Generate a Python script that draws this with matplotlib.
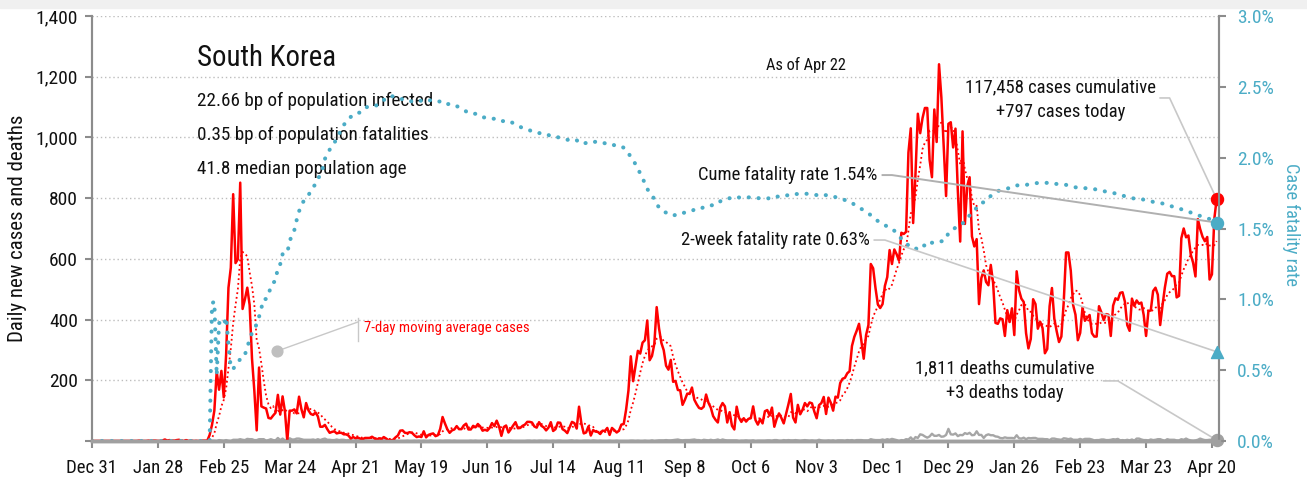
import matplotlib
matplotlib.use('Agg')
import matplotlib.pyplot as plt
import matplotlib.dates as mdates
from matplotlib import font_manager
from matplotlib.patches import Rectangle
import numpy as np
import pandas as pd

# daily new confirmed cases, South Korea, one list per month
cases_2019_12 = [0]
cases_2020_01 = [0, 0, 0, 0, 0, 0, 0, 0, 0, 0, 0, 0, 0, 0, 0, 0, 0, 0, 0, 1,
                 0, 0, 0, 1, 0, 1, 1, 0, 0, 2, 5]
cases_2020_02 = [1, 3, 0, 1, 3, 4, 0, 0, 3, 0, 1, 0, 0, 0, 0, 1, 1, 1, 20, 53,
                 100, 229, 169, 231, 144, 284, 505, 571, 813]
cases_2020_03 = [586, 599, 851, 435, 467, 505, 448, 272, 165, 35, 242, 114, 110, 107, 76, 74,
                 84, 93, 152, 87, 147, 98, 0, 100, 100, 104, 91, 146, 105, 78, 125]
cases_2020_04 = [101, 89, 86, 94, 81, 47, 47, 53, 39, 27, 30, 32, 25, 27, 27, 22, 22, 18, 8, 13,
                 9, 11, 8, 6, 10, 10, 10, 14, 9, 4]
cases_2020_05 = [9, 6, 13, 8, 3, 2, 4, 12, 18, 34, 35, 27, 26, 29, 27, 19, 13, 15, 13, 32,
                 12, 20, 23, 25, 16, 19, 40, 79, 58, 39, 27]
cases_2020_06 = [35, 38, 49, 39, 39, 51, 57, 38, 38, 50, 45, 56, 48, 34, 37, 34, 43, 59, 49, 67,
                 48, 17, 46, 51, 28, 39, 51, 62, 42, 43]
cases_2020_07 = [50, 54, 63, 63, 61, 48, 44, 62, 50, 45, 35, 44, 62, 33, 39, 61, 60, 39, 34, 26,
                 45, 63, 59, 41, 113, 58, 25, 28, 48, 18, 36]
cases_2020_08 = [31, 30, 23, 34, 33, 43, 20, 43, 36, 28, 34, 54, 56, 103, 166, 279, 197, 246, 297, 288,
                 324, 332, 397, 266, 280, 320, 441, 371, 323, 299, 248]
cases_2020_09 = [235, 267, 195, 198, 168, 167, 119, 136, 156, 155, 176, 136, 121, 109, 106, 113, 153, 126, 110, 82,
                 70, 61, 110, 125, 114, 61, 95, 50, 38, 113]
cases_2020_10 = [77, 63, 75, 64, 73, 75, 114, 69, 54, 72, 58, 98, 102, 84, 110, 47, 73, 91, 76, 58,
                 89, 121, 155, 77, 61, 119, 88, 103, 125, 114, 127]
cases_2020_11 = [124, 97, 75, 118, 125, 145, 89, 143, 126, 100, 146, 143, 191, 205, 208, 223, 230, 313, 343, 363,
                 386, 330, 271, 349, 382, 583, 569, 504, 450, 438]
cases_2020_12 = [451, 511, 540, 629, 583, 631, 615, 594, 686, 682, 689, 950, 1030, 718, 880, 1078,
                 1014, 1064, 1097, 1097, 926, 869, 1092, 985, 1241, 1132, 970, 807, 1045, 1050, 967]
cases_2021_01 = [1029, 824, 657, 1020, 715, 840, 869, 674, 641, 665, 451, 537, 562, 524, 513, 580,
                 520, 389, 386, 404, 401, 346, 431, 392, 437, 349, 559, 497, 469, 458, 355]
cases_2021_02 = [305, 336, 467, 451, 370, 393, 372, 289, 303, 444, 504, 403, 362, 326, 344, 457, 621, 621, 561, 448,
                 416, 332, 356, 440, 396, 406, 415, 355]
cases_2021_03 = [344, 344, 444, 424, 398, 418, 416, 346, 446, 470, 465, 488, 490, 459, 382, 363,
                 469, 445, 463, 452, 456, 415, 346, 428, 430, 494, 505, 482, 382, 447, 506]
cases_2021_04 = [551, 557, 543, 543, 473, 478, 668, 700, 671, 677, 614, 587, 542, 731, 698, 673,
                 658, 672, 532, 549, 731, 797]

# daily deaths, same months
deaths_2019_12 = [0]
deaths_2020_01 = [0, 0, 0, 0, 0, 0, 0, 0, 0, 0, 0, 0, 0, 0, 0, 0, 0, 0, 0, 0,
                  0, 0, 0, 0, 0, 0, 0, 0, 0, 0, 0]
deaths_2020_02 = [0, 0, 0, 0, 0, 0, 0, 0, 0, 0, 0, 0, 0, 0, 0, 0, 0, 0, 0, 1,
                  1, 0, 3, 2, 1, 3, 1, 0, 4]
deaths_2020_03 = [4, 4, 6, 4, 3, 7, 6, 6, 3, 3, 6, 6, 6, 1, 3, 6, 3, 2, 10, 3,
                  8, 2, 0, 9, 5, 5, 8, 8, 6, 4, 4]
deaths_2020_04 = [4, 4, 5, 3, 6, 3, 6, 8, 4, 4, 3, 3, 5, 3, 4, 4, 2, 3, 2, 1,
                  1, 2, 0, 2, 2, 1, 0, 1, 1, 0]
deaths_2020_05 = [1, 2, 2, 0, 2, 1, 0, 0, 0, 0, 0, 0, 1, 0, 0, 1, 0, 1, 0, 1,
                  0, 0, 2, 0, 0, 0, 1, 0, 1, 1, 1]
deaths_2020_06 = [0, 1, 0, 0, 0, 0, 0, 0, 1, 0, 1, 0, 0, 0, 1, 0, 1, 1, 1, 0,
                  1, 0, 1, 0, 1, 1, 0, 0, 0, 0]
deaths_2020_07 = [0, 0, 1, 1, 0, 1, 0, 1, 1, 0, 1, 0, 0, 1, 0, 1, 1, 0, 0, 0,
                  1, 2, 0, 1, 0, 0, 1, 1, 1, 0, 2]
deaths_2020_08 = [1, 0, 1, 0, 0, 0, 1, 0, 0, 1, 0, 0, 0, 0, 0, 1, 1, 0, 1, 0,
                  0, 1, 0, 0, 2, 0, 1, 2, 2, 2, 3]
deaths_2020_09 = [2, 2, 3, 4, 5, 3, 2, 3, 3, 3, 4, 5, 3, 3, 1, 4, 3, 2, 4, 2,
                  3, 5, 2, 5, 3, 2, 2, 2, 2, 2]
deaths_2020_10 = [0, 1, 1, 2, 1, 1, 2, 0, 1, 1, 1, 1, 2, 2, 1, 3, 3, 1, 1, 3,
                  2, 3, 2, 2, 3, 2, 1, 2, 3, 2, 1]
deaths_2020_11 = [2, 1, 1, 4, 2, 1, 1, 2, 1, 2, 0, 2, 2, 2, 1, 3, 2, 3, 1, 3,
                  3, 3, 2, 2, 2, 6, 4, 3, 3, 3]
deaths_2020_12 = [5, 3, 6, 4, 7, 5, 3, 0, 3, 2, 6, 5, 12, 3, 13, 10, 22, 20, 15, 11,
                  15, 24, 17, 17, 20, 14, 15, 20, 40, 22, 21]
deaths_2021_01 = [25, 16, 20, 19, 26, 23, 27, 19, 20, 32, 20, 20, 10, 19, 22, 19, 19, 15, 14, 10,
                  9, 12, 10, 10, 10, 9, 19, 9, 8, 11, 6]
deaths_2021_02 = [10, 9, 10, 10, 7, 7, 7, 6, 6, 3, 8, 8, 6, 5, 4, 9, 8, 6, 8, 4,
                  4, 4, 7, 4, 7, 7, 7, 5]
deaths_2021_03 = [2, 3, 3, 5, 5, 3, 3, 4, 6, 5, 7, 2, 3, 2, 4, 2, 5, 1, 8, 8,
                  5, 3, 3, 2, 5, 3, 4, 6, 6, 3, 1]
deaths_2021_04 = [6, 4, 4, 4, 2, 2, 6, 4, 8, 4, 2, 1, 2, 4, 8, 5, 3, 3, 4, 4,
                  1, 3]

# headline figures
country = 'South Korea'
as_of = 'Apr 22'
cume_cases = 117458
cume_deaths = 1811
two_week_cfr = 0.63
stats_lines = ['22.66 bp of population infected',
               '0.35 bp of population fatalities',
               '41.8 median population age']

cases = np.array(cases_2019_12 + cases_2020_01 + cases_2020_02 + cases_2020_03 + cases_2020_04
                 + cases_2020_05 + cases_2020_06 + cases_2020_07 + cases_2020_08 + cases_2020_09
                 + cases_2020_10 + cases_2020_11 + cases_2020_12 + cases_2021_01 + cases_2021_02
                 + cases_2021_03 + cases_2021_04, dtype=float)
deaths = np.array(deaths_2019_12 + deaths_2020_01 + deaths_2020_02 + deaths_2020_03 + deaths_2020_04
                  + deaths_2020_05 + deaths_2020_06 + deaths_2020_07 + deaths_2020_08 + deaths_2020_09
                  + deaths_2020_10 + deaths_2020_11 + deaths_2020_12 + deaths_2021_01 + deaths_2021_02
                  + deaths_2021_03 + deaths_2021_04, dtype=float)

start = pd.Timestamp('2019-12-31')
dates = pd.date_range(start, periods=len(cases), freq='D')
x = mdates.date2num(dates.to_pydatetime())

ma7 = pd.Series(cases).rolling(7, min_periods=1).mean().values
cum_c = np.cumsum(cases)
cum_d = np.cumsum(deaths)
cfr = np.divide(cum_d, cum_c, out=np.zeros_like(cum_c), where=cum_c > 0) * 100
cume_cfr = 100.0 * cume_deaths / cume_cases


def day(n):
    return mdates.date2num((start + pd.Timedelta(days=n)).to_pydatetime())


def pick_font():
    """Prefer a narrow sans if one is installed."""
    entries = font_manager.fontManager.ttflist
    names = {f.name for f in entries}
    for n in ('Liberation Sans Narrow', 'Roboto Condensed', 'Noto Sans Condensed',
              'Open Sans Condensed', 'DejaVu Sans Condensed'):
        if n in names:
            return n, 'normal'
    for f in entries:
        if f.name == 'DejaVu Sans' and str(f.stretch) == 'condensed':
            return 'DejaVu Sans', 'condensed'
    return 'Roboto', 'normal'


family, stretch = pick_font()
plt.rcParams['font.family'] = [family, 'DejaVu Sans']
plt.rcParams['font.stretch'] = stretch

RED = '#ff0000'
TEAL = '#4bacc6'
GREY = '#a6a6a6'
AXIS = '#8c8c8c'
CONN = '#c8c8c8'
INK = '#111111'

W, H = 1307, 482
fig = plt.figure(figsize=(W / 100, H / 100), dpi=100)
fig.patches.append(Rectangle((0, 1 - 8 / H), 1, 8 / H, transform=fig.transFigure,
                             color='#f0f0f0', zorder=0))
ax = fig.add_axes([92 / W, 41 / H, (1219 - 92) / W, (441 - 16) / H])
ax2 = ax.twinx()

# cases and deaths on the left scale
ax.plot(x, deaths, color=GREY, lw=1.7, zorder=2)
ax.plot(x, cases, color=RED, lw=1.8, zorder=3)
ax.plot(x, ma7, color=RED, lw=1.3, linestyle=(0, (1, 1.6)), zorder=3)

# fatality rate on the right scale
ax2.plot(x, cfr, color=TEAL, lw=2.9, linestyle=(0, (0.05, 2.4)),
         dash_capstyle='round', zorder=2)

ax.set_xlim(day(0), day(len(cases)))
ax.set_ylim(0, 1400)
ax2.set_ylim(0, 3.0)

ax.set_yticks(np.arange(0, 1401, 200))
ax.yaxis.set_major_formatter(matplotlib.ticker.FuncFormatter(lambda v, p: f'{int(v):,}' if v > 0 else ''))
ax2.set_yticks(np.arange(0, 3.01, 0.5))
ax2.yaxis.set_major_formatter(matplotlib.ticker.FuncFormatter(lambda v, p: f'{v:.1f}%'))

ticks = pd.date_range(start, periods=18, freq='28D')
ax.set_xticks(mdates.date2num(ticks.to_pydatetime()))
ax.xaxis.set_major_formatter(mdates.DateFormatter('%b %-d'))

ax.yaxis.grid(True, color='#bdbdbd', linestyle=(0, (1, 2)), lw=1)
ax.set_axisbelow(True)

for a in (ax, ax2):
    a.spines['top'].set_visible(False)
    a.spines['left'].set_color(AXIS)
    a.spines['right'].set_color(AXIS)
    a.spines['left'].set_linewidth(1.5)
    a.spines['right'].set_linewidth(1.5)
    a.spines['bottom'].set_color('#a0a0a0')
    a.spines['bottom'].set_linewidth(2.5)

ax.tick_params(axis='y', colors=AXIS, labelcolor=INK, labelsize=14, length=5, width=1.5, pad=5)
ax.tick_params(axis='x', colors=AXIS, labelcolor=INK, labelsize=13.6, length=5, width=1.5, pad=8)
ax2.tick_params(axis='y', colors=AXIS, labelcolor=TEAL, labelsize=14, length=5, width=1.5, pad=8)

ax.set_ylabel('Daily new cases and deaths', fontsize=15, color=INK, va='center')
ax.yaxis.set_label_coords((18 - 92) / 1127, 0.5)
ax2.set_ylabel('Case fatality rate', fontsize=13.2, color=TEAL, rotation=270, va='center')
ax2.yaxis.set_label_coords((1291 - 92) / 1127, 0.51)

# title block
ax.text(day(44.6), 1262, country, fontsize=20.8, color=INK, va='center', ha='left')
for i, line in enumerate(stats_lines):
    ax.text(day(44.6), 1120 - i * 112, line, fontsize=13.8, color=INK, va='center', ha='left')
ax.text(day(303.4), 1238, f'As of {as_of}', fontsize=11.8, color=INK, va='center', ha='center')

# moving average callout
ax.plot([day(78.6), day(113)], [296, 392], color=CONN, lw=1, zorder=4)
ax.plot([day(113), day(113)], [329, 405], color=CONN, lw=1, zorder=4)
ax.scatter([day(78.6)], [296], s=60, color='#bfbfbf', zorder=5)
ax.text(day(115.5), 372, '7-day moving average cases', fontsize=10.6, color=RED, va='center', ha='left')

# end-of-series markers
last = x[-1]
ax.scatter([last], [cases[-1]], s=75, color=RED, zorder=6, clip_on=False)
ax.scatter([last], [deaths[-1]], s=75, color='#a0a0a0', zorder=6, clip_on=False)
ax2.scatter([last], [cume_cfr], s=75, color=TEAL, zorder=6, clip_on=False)
ax2.scatter([last], [two_week_cfr], s=75, marker='^', color=TEAL, zorder=6, clip_on=False)

to_pct = 3.0 / 1400

# cases callout
ax.text(day(411.8), 1166, f'{cume_cases:,} cases cumulative', fontsize=13.4, color=INK,
        va='center', ha='center')
ax.text(day(411.8), 1084, f'+{int(cases[-1]):,} cases today', fontsize=13.4, color=INK,
        va='center', ha='center')
ax.plot([day(454), day(458), last], [1130, 1130, cases[-1]], color=CONN, lw=1.2, zorder=4)

# cumulative fatality rate callout
ax.text(day(334), 876, f'Cume fatality rate {cume_cfr:.2f}%', fontsize=13.4, color=INK,
        va='center', ha='right')
ax2.plot([day(336), day(340), last], [876 * to_pct, 876 * to_pct, cume_cfr], color='#b0b0b0', lw=1.4, zorder=4)

# two-week fatality rate callout
ax.text(day(330.6), 662, f'2-week fatality rate {two_week_cfr:.2f}%', fontsize=13.4, color=INK,
        va='center', ha='right')
ax2.plot([day(332.5), day(337), last], [662 * to_pct, 662 * to_pct, two_week_cfr], color=CONN, lw=1.2, zorder=4)

# deaths callout
ax.text(day(388), 240, f'{cume_deaths:,} deaths cumulative', fontsize=13.4, color=INK,
        va='center', ha='center')
ax.text(day(388), 158, f'+{int(deaths[-1]):,} deaths today', fontsize=13.4, color=INK,
        va='center', ha='center')
ax.plot([day(430), day(436), last], [198, 198, deaths[-1]], color=CONN, lw=1.2, zorder=4)

fig.savefig('out.png', dpi=100)
